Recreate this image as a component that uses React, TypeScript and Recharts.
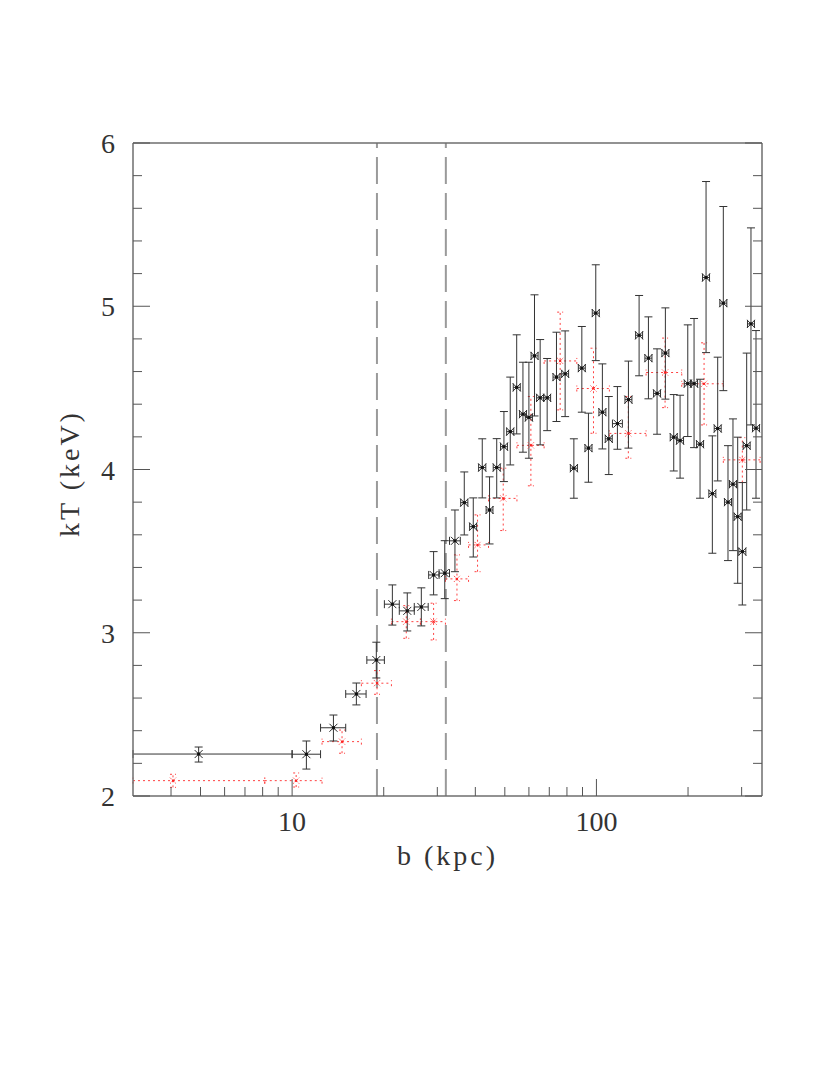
import React from "react";
import { ScatterChart, Scatter, XAxis, YAxis, ErrorBar, ReferenceLine } from "recharts";

// black profile (solid error bars)
const bBlack = [4.93, 11.14, 13.67, 16.26, 18.91, 21.35, 23.9, 26.58, 29.17, 31.74, 34.28, 36.79, 39.38, 42.15, 44.54, 47.03, 49.66, 52.09, 54.7, 57.35, 59.99, 62.58, 65.33, 68.88, 73.91, 78.91, 84.3, 89.54, 94.13, 99.5, 104.6, 109.8, 117.2, 127.4, 138.1, 148.2, 158.2, 168.5, 179.5, 188.3, 199.6, 209.3, 219.0, 229.2, 240.4, 250.3, 261.2, 270.6, 281.0, 291.2, 301.6, 311.7, 322.0, 334.5];
const bBlackLo = [3.0, 10.0, 12.4, 15.0, 17.6, 20.1, 22.5, 25.2, 28.1, 30.4, 32.9, 35.8, 38.3, 41.0, 43.4, 45.8, 48.4, 50.7, 53.3, 55.9, 58.4, 61.0, 63.6, 67.1, 72.0, 76.9, 82.1, 87.2, 91.7, 96.9, 101.9, 106.9, 112.9, 124.1, 134.5, 144.3, 154.1, 164.1, 174.8, 183.4, 194.4, 203.8, 213.3, 223.2, 234.1, 243.8, 254.4, 263.5, 273.7, 283.6, 293.7, 303.6, 313.6, 325.8];
const bBlackHi = [10.0, 12.4, 15.0, 17.5, 20.1, 22.5, 25.2, 28.0, 30.4, 32.9, 35.7, 37.8, 40.4, 43.3, 45.7, 48.3, 51.0, 53.5, 56.2, 58.9, 61.6, 64.3, 67.1, 70.7, 75.9, 81.0, 86.6, 91.9, 96.7, 102.2, 107.4, 112.7, 121.7, 130.8, 141.8, 152.2, 162.4, 173.0, 184.3, 193.3, 205.0, 214.9, 224.9, 235.3, 246.8, 257.0, 268.2, 277.9, 288.5, 299.0, 309.7, 320.0, 330.6, 343.5];
const kTBlack = [2.257, 2.256, 2.418, 2.625, 2.833, 3.175, 3.134, 3.158, 3.354, 3.365, 3.563, 3.797, 3.65, 4.012, 3.752, 4.012, 4.14, 4.232, 4.503, 4.339, 4.319, 4.696, 4.439, 4.439, 4.566, 4.586, 4.008, 4.621, 4.131, 4.958, 4.351, 4.188, 4.281, 4.428, 4.822, 4.682, 4.466, 4.713, 4.198, 4.177, 4.526, 4.526, 4.155, 5.176, 3.852, 4.251, 5.019, 3.8, 3.91, 3.711, 3.497, 4.146, 4.892, 4.253];
const kTBlackLo = [2.208, 2.165, 2.337, 2.558, 2.723, 3.047, 3.011, 3.042, 3.232, 3.209, 3.374, 3.599, 3.464, 3.826, 3.544, 3.826, 3.926, 4.028, 4.218, 4.106, 4.069, 4.328, 4.151, 4.238, 4.294, 4.324, 3.824, 4.351, 3.922, 4.667, 4.126, 3.969, 4.124, 4.131, 4.574, 4.433, 4.216, 4.431, 3.991, 3.947, 4.202, 4.134, 3.824, 4.716, 3.487, 3.93, 4.483, 3.442, 3.503, 3.303, 3.17, 3.752, 4.273, 3.824];
const kTBlackHi = [2.3, 2.337, 2.496, 2.692, 2.942, 3.293, 3.244, 3.275, 3.497, 3.564, 3.752, 3.985, 3.826, 4.188, 3.955, 4.189, 4.355, 4.566, 4.825, 4.657, 4.657, 5.07, 4.796, 4.68, 4.841, 4.849, 4.188, 4.876, 4.345, 5.254, 4.647, 4.447, 4.508, 4.664, 5.066, 4.935, 4.739, 4.99, 4.459, 4.455, 4.886, 4.925, 4.553, 5.764, 4.206, 4.688, 5.611, 4.146, 4.31, 4.198, 3.92, 4.713, 5.48, 4.851];

// red profile (dotted error bars)
const bRed = [4.06, 10.31, 14.59, 19.01, 23.72, 29.17, 34.81, 40.68, 49.4, 60.9, 76.0, 97.8, 127.3, 168.1, 225.8, 301.6];
const bRedLo = [3.0, 8.13, 12.54, 16.89, 21.2, 26.4, 31.9, 38.0, 44.2, 54.8, 67.3, 86.2, 110.3, 145.6, 190.7, 261.2];
const bRedHi = [8.13, 12.54, 16.89, 21.2, 26.4, 31.9, 38.0, 44.2, 54.8, 67.3, 86.2, 110.3, 145.6, 190.7, 261.2, 345];
const kTRed = [2.094, 2.094, 2.333, 2.691, 3.068, 3.068, 3.33, 3.538, 3.823, 4.148, 4.665, 4.496, 4.221, 4.594, 4.525, 4.059];
const kTRedLo = [2.053, 2.055, 2.262, 2.623, 2.966, 2.956, 3.197, 3.374, 3.626, 3.9, 4.365, 4.222, 4.069, 4.379, 4.273, 3.92];
const kTRedHi = [2.133, 2.141, 2.404, 2.768, 3.166, 3.181, 3.477, 3.722, 4.008, 4.447, 4.964, 4.743, 4.447, 4.805, 4.776, 4.195];

// axis ticks and vertical markers
const xTicks = [4, 5, 6, 7, 8, 9, 10, 20, 30, 40, 50, 60, 70, 80, 90, 100, 200, 300];
const xMajor = [10, 100];
const yTicks = [2, 2.2, 2.4, 2.6, 2.8, 3, 3.2, 3.4, 3.6, 3.8, 4, 4.2, 4.4, 4.6, 4.8, 5, 5.2, 5.4, 5.6, 5.8, 6];
const yMajor = [2, 3, 4, 5, 6];
const markers = [19, 32];

const black = bBlack.map((b, i) => ({
  b,
  kT: kTBlack[i],
  ex: [b - bBlackLo[i], bBlackHi[i] - b],
  ey: [kTBlack[i] - kTBlackLo[i], kTBlackHi[i] - kTBlack[i]],
}));
const red = bRed.map((b, i) => ({
  b,
  kT: kTRed[i],
  ex: [b - bRedLo[i], bRedHi[i] - b],
  ey: [kTRed[i] - kTRedLo[i], kTRedHi[i] - kTRed[i]],
}));

const FONT = "'Liberation Serif', 'DejaVu Serif', serif";
const TICK = "#555";
const FRAME = "#6e6e6e";

function BottomTick({ x, y, payload }: any) {
  const major = xMajor.includes(payload.value);
  return (
    <g>
      <line x1={x} x2={x} y1={y} y2={y - (major ? 17 : 9)} stroke={TICK} />
      {major && (
        <text x={x} y={y + 35} textAnchor="middle" fontFamily={FONT} fontSize={28} fill="#333">
          {payload.value}
        </text>
      )}
    </g>
  );
}

function TopTick({ x, y, payload }: any) {
  const major = xMajor.includes(payload.value);
  return <line x1={x} x2={x} y1={y} y2={y + (major ? 17 : 9)} stroke={TICK} />;
}

function LeftTick({ x, y, payload }: any) {
  const major = yMajor.includes(payload.value);
  return (
    <g>
      <line x1={x} x2={x + (major ? 17 : 9)} y1={y} y2={y} stroke={TICK} />
      {major && (
        <text x={x - 25} y={y + 10} textAnchor="middle" fontFamily={FONT} fontSize={28} fill="#333">
          {payload.value}
        </text>
      )}
    </g>
  );
}

function RightTick({ x, y, payload }: any) {
  const major = yMajor.includes(payload.value);
  return <line x1={x} x2={x - (major ? 17 : 9)} y1={y} y2={y} stroke={TICK} />;
}

function XTitle({ viewBox }: any) {
  return (
    <text x={viewBox.x + viewBox.width / 2} y={viewBox.y + 69} textAnchor="middle"
      fontFamily={FONT} fontSize={28} letterSpacing={3} fill="#333">
      b (kpc)
    </text>
  );
}

function YTitle({ viewBox }: any) {
  const cx = 79;
  const cy = viewBox.y + viewBox.height / 2 + 4;
  return (
    <text x={cx} y={cy} transform={`rotate(-90 ${cx} ${cy})`} textAnchor="middle"
      fontFamily={FONT} fontSize={28} letterSpacing={3} fill="#333">
      kT (keV)
    </text>
  );
}

function BlackMark({ cx, cy }: any) {
  const s = 4;
  return (
    <g>
      <path d={`M${cx - s},${cy - s}L${cx + s},${cy + s}M${cx - s},${cy + s}L${cx + s},${cy - s}`} stroke="#2a2a2a" strokeWidth={1} />
      <rect x={cx - 1.5} y={cy - 1.5} width={3} height={3} fill="#111" />
    </g>
  );
}

function RedMark({ cx, cy }: any) {
  const s = 3;
  return (
    <g>
      <path d={`M${cx - s},${cy - s}L${cx + s},${cy + s}M${cx - s},${cy + s}L${cx + s},${cy - s}`} stroke="#ff4040" strokeWidth={1} strokeDasharray="1.5 1" />
      <rect x={cx - 1} y={cy - 1} width={2} height={2} fill="#ff2020" />
    </g>
  );
}

export default function App() {
  return (
    <div style={{ position: "absolute", left: 0, top: 0, background: "#fff" }}>
      <ScatterChart width={830} height={1075} margin={{ top: 0, right: 0, bottom: 0, left: 0 }}>
        <XAxis xAxisId="b" dataKey="b" type="number" scale="log" domain={[3, 350]} allowDataOverflow
          orientation="bottom" height={279} ticks={xTicks} interval={0} tickSize={0} tickMargin={0}
          tickLine={false} axisLine={{ stroke: FRAME, strokeWidth: 1.5 }} tick={<BottomTick />}
          label={<XTitle />} />
        <XAxis xAxisId="t" type="number" scale="log" domain={[3, 350]} allowDataOverflow
          orientation="top" height={143} ticks={xTicks} interval={0} tickSize={0} tickMargin={0}
          tickLine={false} axisLine={{ stroke: FRAME, strokeWidth: 1.5 }} tick={<TopTick />} />
        <YAxis yAxisId="k" dataKey="kT" type="number" domain={[2, 6]} allowDataOverflow
          orientation="left" width={133} ticks={yTicks} interval={0} tickSize={0} tickMargin={0}
          tickLine={false} axisLine={{ stroke: FRAME, strokeWidth: 1.5 }} tick={<LeftTick />}
          label={<YTitle />} />
        <YAxis yAxisId="r" type="number" domain={[2, 6]} allowDataOverflow
          orientation="right" width={68} ticks={yTicks} interval={0} tickSize={0} tickMargin={0}
          tickLine={false} axisLine={{ stroke: FRAME, strokeWidth: 1.5 }} tick={<RightTick />} />
        {markers.map((m) => (
          <ReferenceLine key={m} x={m} xAxisId="b" yAxisId="k" stroke="#9a9a9a" strokeWidth={2} strokeDasharray="27 9" />
        ))}
        <Scatter data={red} xAxisId="b" yAxisId="k" isAnimationActive={false} shape={<RedMark />}>
          <ErrorBar dataKey="ex" direction="x" width={3} stroke="#ff4040" strokeWidth={1} strokeDasharray="2 3" isAnimationActive={false} />
          <ErrorBar dataKey="ey" direction="y" width={3} stroke="#ff4040" strokeWidth={1} strokeDasharray="2 3" isAnimationActive={false} />
        </Scatter>
        <Scatter data={black} xAxisId="b" yAxisId="k" isAnimationActive={false} shape={<BlackMark />}>
          <ErrorBar dataKey="ex" direction="x" width={4} stroke="#333" strokeWidth={1} isAnimationActive={false} />
          <ErrorBar dataKey="ey" direction="y" width={4} stroke="#333" strokeWidth={1} isAnimationActive={false} />
        </Scatter>
      </ScatterChart>
    </div>
  );
}
